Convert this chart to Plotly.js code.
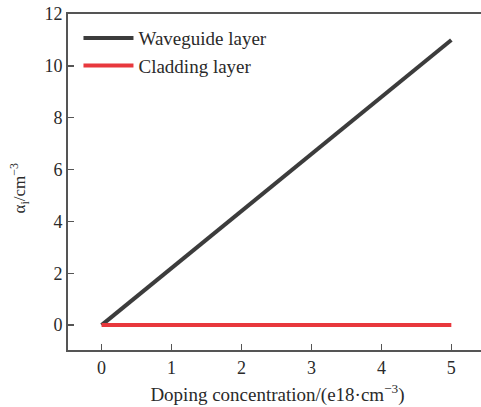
<!DOCTYPE html>
<html>
<head>
<meta charset="utf-8">
<script src="https://cdn.plot.ly/plotly-3.0.1.min.js"></script>
<style>
html,body{margin:0;padding:0;overflow:hidden;background:#fff;}
#chart{width:490px;height:407px;}
</style>
</head>
<body>
<div id="chart"></div>
<script>
const doping = [0, 1, 2, 3, 4, 5];
const waveguide = [0, 2.2, 4.4, 6.6, 8.8, 11.0];
const cladding = [0, 0, 0, 0, 0, 0];
const seriesNames = ['Waveguide layer', 'Cladding layer'];
const xTicks = [0, 1, 2, 3, 4, 5];
const yTicks = [0, 2, 4, 6, 8, 10, 12];

const font = 'Liberation Serif, Times New Roman, serif';
const axisColor = '#555555';
const textColor = '#2a2a2a';

const traces = [
  {x: doping, y: waveguide, name: seriesNames[0], mode: 'lines',
   line: {color: '#3c3c3c', width: 4}},
  {x: doping, y: cladding, name: seriesNames[1], mode: 'lines',
   line: {color: '#e8383d', width: 4}}
];

const layout = {
  width: 490, height: 407,
  margin: {l: 68, r: 3, t: 14, b: 57},
  paper_bgcolor: '#ffffff', plot_bgcolor: '#ffffff',
  font: {family: font, size: 18, color: textColor},
  showlegend: true,
  legend: {x: 0.025, y: 0.985, xanchor: 'left', yanchor: 'top',
           bgcolor: 'rgba(0,0,0,0)', font: {family: font, size: 19, color: textColor},
           tracegroupgap: 0, itemwidth: 50},
  xaxis: {
    range: [-0.48, 5.51], tickvals: xTicks, ticktext: xTicks.map(String),
    showgrid: false, zeroline: false, showline: true, linecolor: axisColor, linewidth: 2,
    mirror: true, ticks: 'inside', ticklen: 6, tickwidth: 1.5, tickcolor: axisColor,
    tickfont: {family: font, size: 18, color: textColor},
    title: {text: 'Doping concentration/(e18·cm<sup>−3</sup>)', font: {family: font, size: 19, color: textColor}, standoff: 11}
  },
  yaxis: {
    range: [-0.96, 12], tickvals: yTicks, ticktext: yTicks.map(String),
    showgrid: false, zeroline: false, showline: true, linecolor: axisColor, linewidth: 2,
    mirror: true, ticks: 'inside', ticklen: 6, tickwidth: 1.5, tickcolor: axisColor,
    tickfont: {family: font, size: 18, color: textColor}
  },
  annotations: [{
    text: 'α<sub>i</sub>/cm<sup>−3</sup>', textangle: -90, showarrow: false,
    xref: 'paper', yref: 'paper', x: -0.115, y: 0.48, xanchor: 'center', yanchor: 'middle',
    font: {family: font, size: 17, color: textColor}
  }]
};

Plotly.newPlot('chart', traces, layout, {displayModeBar: false, staticPlot: true});
</script>
</body>
</html>
